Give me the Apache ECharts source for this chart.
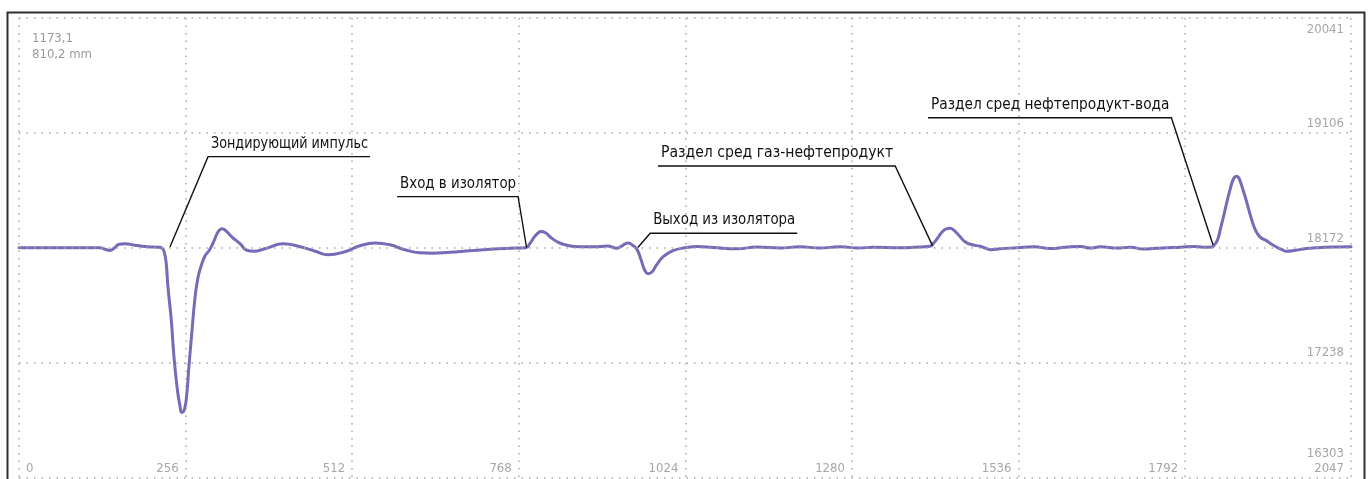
<!DOCTYPE html>
<html>
<head>
<meta charset="utf-8">
<script src="https://cdn.jsdelivr.net/npm/echarts@6/dist/echarts.min.js"></script>
<style>
html,body{margin:0;padding:0;background:#fff;}
#chart{width:1368px;height:479px;}
</style>
</head>
<body>
<div id="chart"></div>
<script>
// ---------- data ----------
const sampleX = [0,63,124.5,132,140,146,154,163,178,198,214,220,223,226,229,234,238,243,247,250.5,253.6,257,261,266,270.5,275,280,286,292,297,301,306,312,318,327,340,350,361,378,406,432,455,475,501,524,547,570,593,616,635,662,693,724,755,779,785,792,798,802,809,816,827,839,862,885,904,919,928,936,944,950,956,962,967,973,979,990,1005,1024,1042,1067,1104,1134,1170,1200,1231,1262,1290,1313,1354,1377,1400,1406,1413,1419,1425,1431,1437,1445,1454,1465,1477,1486,1494,1508,1534,1559,1585,1608,1631,1646,1662,1688,1708,1728,1746,1765,1785,1805,1820,1833,1837,1842,1846,1851,1856,1861,1865,1868,1871,1874,1877,1882,1887,1893,1900,1907,1918,1925,1933,1941,1948,1962,1978.5,1994,2009,2027,2047];
const signal = [18172,18172,18172,18160,18150,18168,18200,18205,18192,18180,18176,18168,18140,18058,17847,17587,17294,17034,16896,16831,16847,16937,17197,17506,17766,17928,18026,18107,18148,18196,18245,18302,18326,18310,18261,18204,18152,18144,18164,18204,18180,18144,18115,18140,18188,18210,18196,18156,18131,18127,18135,18148,18160,18168,18172,18205,18261,18294,18304,18294,18261,18221,18196,18180,18180,18186,18168,18192,18210,18188,18156,18074,17985,17961,17977,18026,18099,18148,18172,18183,18174,18164,18178,18170,18180,18170,18180,18170,18176,18172,18176,18184,18213,18261,18302,18326,18330,18314,18270,18221,18196,18184,18168,18156,18164,18172,18180,18166,18176,18183,18169,18180,18169,18177,18161,18168,18172,18176,18183,18176,18178,18196,18237,18318,18424,18538,18643,18716,18745,18753,18745,18708,18627,18538,18424,18318,18261,18226,18200,18177,18156,18144,18152,18166,18172,18177,18178,18180];

const xMin = 0, xMax = 2047, xStep = 256;
const yTickValues = [16303, 17238, 18172, 19106, 20041];
const yTickLabels = ['16303', '17238', '18172', '19106', '20041'];
const infoLines = ['1173,1', '810,2 mm'];

const annTexts = ['Зондирующий импульс', 'Вход в изолятор', 'Выход из изолятора', 'Раздел сред газ-нефтепродукт', 'Раздел сред нефтепродукт-вода'];
const annAnchorX = [232, 780, 951, 1404, 1835];
const annAnchorY = [18178, 18174, 18174, 18187, 18195];

// ---------- layout (not data) ----------
// elbow x, elbow y, underline far-end x (in axis units)
const annLayout = [[290.5, 18913, 539.5], [767, 18588, 581], [970, 18290, 1196], [1346.5, 18837, 982], [1771, 19230, 1397]];
const yLabelDist = [[7, 17], [7, 3], [7, 3], [7, 3], [7, 5]];

const FONT = "'Liberation Sans Narrow', 'DejaVu Sans Condensed', 'Noto Sans', sans-serif";
const measureCtx = document.createElement('canvas').getContext('2d');
function textWidth(t, size) { measureCtx.font = 'normal normal ' + size + 'px ' + FONT; return measureCtx.measureText(t).width; }

const lineData = sampleX.map((x, i) => [x, signal[i]]);
const annData = annAnchorX.map((x, i) => [x, annAnchorY[i], annLayout[i][0], annLayout[i][1], annLayout[i][2], i]);

const chart = echarts.init(document.getElementById('chart'), null, {renderer: 'canvas'});
const gridLine = {color: '#a9a9a9', type: [1.5, 6], width: 1.5};

chart.setOption({
  animation: false,
  title: {
    text: infoLines.join('\n'), left: 27, top: 26,
    textStyle: {fontSize: 13, fontWeight: 'normal', color: '#9a9a9a', fontFamily: FONT, lineHeight: 16}
  },
  graphic: [{
    type: 'rect', left: 5, top: 10, silent: true, z: 100,
    shape: {width: 1357, height: 490},
    style: {fill: 'none', stroke: '#2e2e2e', lineWidth: 2}
  }],
  grid: {left: 19, right: 17, top: 18, bottom: 1.5, containLabel: false},
  xAxis: {
    type: 'value', min: xMin, max: xMax, interval: xStep,
    axisLine: {show: false}, axisTick: {show: false},
    splitLine: {show: true, lineStyle: gridLine},
    axisLabel: {
      inside: true, margin: 2, color: '#a6a6a6', fontSize: 13, fontFamily: FONT,
      align: 'right', alignMinLabel: 'left',
      formatter: function (v) { return v === xMin ? '{z|' + v + '}' : '{r|' + v + '}'; },
      rich: {
        z: {padding: [0, 0, 0, 7], fontSize: 13, fontFamily: FONT, color: '#a6a6a6'},
        r: {padding: [0, 7, 0, 0], fontSize: 13, fontFamily: FONT, color: '#a6a6a6'}
      }
    }
  },
  yAxis: {
    type: 'value', min: yTickValues[0], max: yTickValues[yTickValues.length - 1],
    show: false, splitLine: {show: false}
  },
  series: [
    {
      type: 'line', z: 1, silent: true, showSymbol: false,
      data: [[xMin, yTickValues[2]], [xMax, yTickValues[2]]],
      lineStyle: {opacity: 0},
      markLine: {
        silent: true, symbol: 'none', animation: false,
        lineStyle: gridLine,
        data: yTickValues.map((v, i) => ({
          yAxis: v,
          label: {
            show: true, formatter: yTickLabels[i],
            position: i === yTickValues.length - 1 ? 'insideEndBottom' : 'insideEndTop',
            distance: yLabelDist[i], color: '#a6a6a6', fontSize: 13, fontFamily: FONT
          }
        }))
      }
    },
    {
      type: 'line', z: 3, silent: true, showSymbol: false,
      smooth: 0.5,
      data: lineData,
      lineStyle: {color: '#776ab6', width: 3, cap: 'round', join: 'round'}
    },
    {
      type: 'custom', z: 5, silent: true, clip: false,
      encode: {x: 0, y: 1},
      data: annData,
      renderItem: function (params, api) {
        const a = api.coord([api.value(0), api.value(1)]);
        const e = api.coord([api.value(2), api.value(3)]);
        const f = api.coord([api.value(4), api.value(3)]);
        const txt = annTexts[api.value(5)];
        const left = Math.min(e[0], f[0]) + 3;
        const right = Math.max(e[0], f[0]) - 2;
        const size = 16;
        const w = textWidth(txt, size);
        const s = (right - left) / w;
        return {
          type: 'group',
          children: [
            {type: 'polyline', shape: {points: [a, e, f]}, style: {stroke: '#111', lineWidth: 1.4, fill: null}},
            {type: 'text', x: left, y: e[1] - 13, scaleX: s, scaleY: 1,
             style: {text: txt, fill: '#111', fontSize: size, fontFamily: FONT, align: 'left', verticalAlign: 'middle'}}
          ]
        };
      }
    }
  ]
});
</script>
</body>
</html>
